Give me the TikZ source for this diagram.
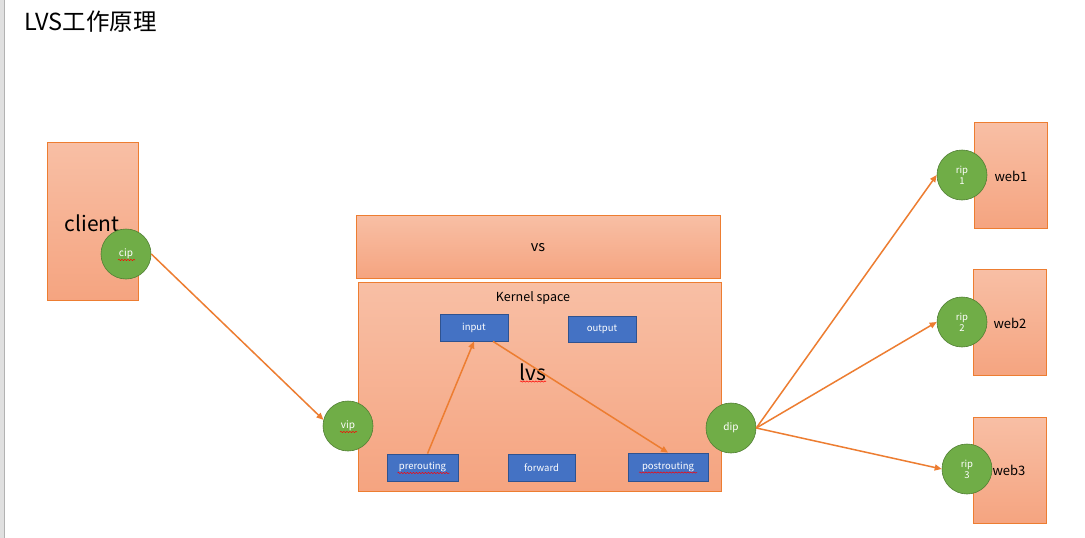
\documentclass[tikz,border=0pt]{standalone}
\usepackage{fontspec}
\setmainfont{Noto Sans CJK SC}
\usetikzlibrary{arrows.meta,decorations.pathmorphing}
\definecolor{orline}{HTML}{ED7D31}
\definecolor{ortop}{HTML}{F8BFA5}
\definecolor{orbot}{HTML}{F5A480}
\definecolor{gfill}{HTML}{70AD47}
\definecolor{gline}{HTML}{507E32}
\definecolor{bfill}{HTML}{4472C4}
\definecolor{bline}{HTML}{2F528F}
\tikzset{
  obox/.style={draw=orline, line width=0.9pt, top color=ortop, bottom color=orbot, inner sep=0pt},
  gcirc/.style={circle, draw=gline, line width=0.6pt, fill=gfill, minimum size=50pt, inner sep=0pt, text=white, font=\fontsize{10}{11}\selectfont, align=center},
  bbox/.style={draw=bline, line width=0.8pt, fill=bfill, inner sep=0pt, text=white, font=\fontsize{9.5}{10}\selectfont},
  conn/.style={draw=orline, line width=1.5pt, -{Triangle[length=7pt,width=6pt]}},
  squig/.style={draw=red, line width=0.5pt, decorate, decoration={snake, amplitude=0.6pt, segment length=3pt}}
}
\begin{document}
\begin{tikzpicture}[x=1pt,y=-1pt]
\useasboundingbox (0,0) rectangle (1085,538);
\fill[white] (0,0) rectangle (1085,538);
\fill[black!12] (0,0) rectangle (4,538);
\draw[black!30, line width=0.6pt] (4,0) -- (4,538);

\node[anchor=west, font=\fontsize{23.5}{26}\selectfont] (title) at (21,22) {LVS工作原理};

% client
\node[obox, minimum width=91pt, minimum height=158pt] (client) at (92.5,221) {};
\node[font=\fontsize{21}{23}\selectfont] (clienttxt) at (92,223) {client};
\node[gcirc] (cip) at (126,254) {cip};

% vs and kernel
\node[obox, minimum width=364pt, minimum height=63pt] (vs) at (538,246.5) {};
\node[font=\fontsize{14.5}{16}\selectfont] (vstxt) at (538,248) {vs};
\node[obox, minimum width=363pt, minimum height=209pt] (kernel) at (539.5,386.5) {};
\node[font=\fontsize{12.5}{14}\selectfont] (ktxt) at (533,298) {Kernel space};
\node[font=\fontsize{21}{23}\selectfont] (lvs) at (533,372) {lvs};

\node[bbox, minimum width=68pt, minimum height=27pt] (input) at (474,327.5) {input};
\node[bbox, minimum width=68pt, minimum height=26pt] (output) at (602,329) {output};
\node[bbox, minimum width=71pt, minimum height=27pt] (pre) at (422.5,467.5) {prerouting};
\node[bbox, minimum width=67pt, minimum height=27pt] (fwd) at (541.5,467.5) {forward};
\node[bbox, minimum width=80pt, minimum height=28pt] (post) at (668,467) {postrouting};

\node[gcirc] (vip) at (348,426) {vip};
\node[gcirc] (dip) at (731,428) {dip};

% web servers
\node[obox, minimum width=73pt, minimum height=106pt] (web1) at (1010.5,175) {};
\node[obox, minimum width=73pt, minimum height=106pt] (web2) at (1009.5,322) {};
\node[obox, minimum width=73pt, minimum height=106pt] (web3) at (1009.5,470) {};
\node[font=\fontsize{13}{15}\selectfont] (w1t) at (1011,176) {web1};
\node[font=\fontsize{13}{15}\selectfont] (w2t) at (1010,323) {web2};
\node[font=\fontsize{13}{15}\selectfont] (w3t) at (1009,470) {web3};
\node[gcirc, font=\fontsize{9.5}{11}\selectfont] (rip1) at (962,175) {rip\\1};
\node[gcirc, font=\fontsize{9.5}{11}\selectfont] (rip2) at (962,322) {rip\\2};
\node[gcirc, font=\fontsize{9.5}{11}\selectfont] (rip3) at (967,469) {rip\\3};

% spellcheck squiggles
\draw[squig] ([xshift=-8pt,yshift=-6pt]cip.center) -- ([xshift=9pt,yshift=-6pt]cip.center);
\draw[squig] ([xshift=-8pt,yshift=-6pt]vip.center) -- ([xshift=9pt,yshift=-6pt]vip.center);
\draw[squig] ([xshift=-13pt,yshift=-9.5pt]lvs.center) -- ([xshift=13pt,yshift=-9.5pt]lvs.center);
\draw[squig] ([xshift=-25pt,yshift=-5.5pt]pre.center) -- ([xshift=27pt,yshift=-5.5pt]pre.center);
\draw[squig] ([xshift=-29pt,yshift=-5.5pt]post.center) -- ([xshift=29pt,yshift=-5.5pt]post.center);

% connectors
\draw[conn] (cip.east) -- (vip.166);
\draw[conn] ([xshift=5pt]pre.north) -- (input.south);
\draw[conn] ([xshift=19pt]input.south) -- (post.north);
\draw[conn] (dip.east) -- (rip1.west);
\draw[conn] (dip.east) -- (rip2.west);
\draw[conn] (dip.east) -- (rip3.west);
\end{tikzpicture}
\end{document}
